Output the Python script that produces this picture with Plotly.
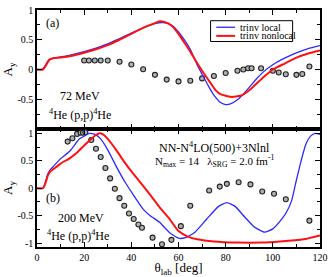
import plotly.graph_objects as go
from plotly.subplots import make_subplots

# ---------- panel (a): 72 MeV ----------
theta_a_local = [0, 2, 3, 4, 5, 6, 8, 10, 15, 20, 25, 30, 35, 40, 45, 50, 53, 55, 58, 60, 63, 65, 68, 70, 73, 75, 78, 80, 82, 85, 88, 90, 93, 96, 100, 105, 110, 115, 120]
ay_a_local = [0, 0, 0.03, 0.1, 0.16, 0.18, 0.2, 0.21, 0.25, 0.3, 0.36, 0.43, 0.52, 0.61, 0.7, 0.77, 0.79, 0.78, 0.72, 0.63, 0.47, 0.34, 0.07, -0.08, -0.3, -0.43, -0.56, -0.59, -0.58, -0.51, -0.39, -0.3, -0.16, -0.04, 0.08, 0.19, 0.28, 0.35, 0.40]
theta_a_nonlocal = [0, 2.5, 3.5, 4.5, 5.5, 7, 10, 15, 20, 25, 30, 35, 40, 45, 50, 52, 54, 57, 60, 62, 65, 68, 71, 74, 76, 78, 82, 85, 87, 90, 93, 96, 100, 105, 110, 115, 120]
ay_a_nonlocal = [0, 0, 0.05, 0.12, 0.17, 0.19, 0.2, 0.23, 0.28, 0.34, 0.41, 0.5, 0.6, 0.7, 0.78, 0.81, 0.8, 0.74, 0.6, 0.48, 0.3, 0.1, -0.08, -0.25, -0.36, -0.42, -0.46, -0.45, -0.43, -0.35, -0.24, -0.13, 0.0, 0.1, 0.2, 0.27, 0.32]
theta_a_exp = [20, 22, 24.5, 27, 30, 35, 40, 45, 50, 55, 60, 65, 70, 75, 80, 85, 87.5, 89.5, 91, 95, 100, 102.5, 105.5, 110, 112.5, 115.5]
ay_a_exp = [0.15, 0.15, 0.15, 0.15, 0.15, 0.13, 0.085, 0.005, -0.09, -0.17, -0.2, -0.19, -0.15, -0.11, -0.06, -0.02, 0.0, 0.02, 0.02, 0.02, -0.02, -0.05, -0.08, -0.09, -0.075, 0.05]

# ---------- panel (b): 200 MeV ----------
theta_b_local = [0, 2.5, 3.5, 4.5, 5.5, 7, 10, 14, 18, 20, 22.3, 24.5, 27, 30, 33.7, 37.5, 40.7, 45, 48, 52, 56, 60, 63, 67, 72, 77, 80.5, 84, 88, 92, 96.5, 100, 104, 106, 108, 110, 112, 114, 116, 118, 120]
ay_b_local = [0, 0, 0.1, 0.25, 0.33, 0.4, 0.54, 0.68, 0.9, 0.95, 1.0, 0.98, 0.9, 0.7, 0.39, 0.1, -0.11, -0.38, -0.5, -0.62, -0.8, -0.91, -0.9, -0.8, -0.56, -0.33, -0.26, -0.33, -0.52, -0.7, -0.8, -0.74, -0.55, -0.42, -0.22, 0.15, 0.5, 0.8, 0.95, 1.0, 0.98]
theta_b_nonlocal = [0, 2.5, 3.5, 4.5, 5.5, 7, 10, 14, 17, 20, 22.5, 25, 26.5, 28, 30, 33.7, 37, 40.7, 44.5, 48, 52, 56, 60, 64, 68, 75, 85, 95, 103, 113, 120]
ay_b_nonlocal = [0, 0, 0.08, 0.22, 0.3, 0.35, 0.45, 0.55, 0.65, 0.78, 0.88, 0.97, 1.0, 0.98, 0.9, 0.69, 0.48, 0.27, 0.07, -0.12, -0.35, -0.55, -0.78, -0.88, -0.93, -0.97, -0.99, -0.99, -0.97, -0.93, -0.86]
theta_b_exp = [13, 15, 17, 18.5, 19.5, 20.5, 23, 25, 27, 29, 31, 33, 35, 37, 39, 41, 43, 44.5, 49, 53, 57, 61, 65, 73, 77.5, 80.5, 85.5, 90.5, 95.5, 100.5, 105.5, 115.5]
ay_b_exp = [0.85, 0.91, 0.99, 1.01, 1.01, 1.02, 0.88, 0.72, 0.57, 0.37, 0.18, -0.01, -0.18, -0.32, -0.46, -0.56, -0.66, -0.72, -0.9, -1.02, -0.94, -0.69, -0.32, -0.04, 0.03, 0.08, 0.11, 0.07, -0.06, -0.1, -0.2, -0.59]

legend_labels = ["trinv local", "trinv nonlocal"]

BLUE = "#2a2aff"
RED = "#ff1010"
SERIF = "Liberation Serif, Times New Roman, serif"

fig = make_subplots(rows=2, cols=1, shared_xaxes=True, vertical_spacing=0)

def exp_trace(x, y, row):
    fig.add_trace(go.Scatter(
        x=x, y=y, mode="markers", showlegend=False,
        marker=dict(symbol="circle", size=5, color="#b0b0b0",
                    line=dict(color="#222222", width=1.1)),
        error_y=dict(type="constant", value=0.012, width=2, color="#222222", thickness=0.8),
    ), row=row, col=1)

def curve(x, y, row, color, width):
    fig.add_trace(go.Scatter(x=x, y=y, mode="lines", showlegend=False,
                             line=dict(color=color, width=width, shape="spline", smoothing=0.5)),
                  row=row, col=1)

exp_trace(theta_a_exp, ay_a_exp, 1)
curve(theta_a_local, ay_a_local, 1, BLUE, 1.3)
curve(theta_a_nonlocal, ay_a_nonlocal, 1, RED, 2)
exp_trace(theta_b_exp, ay_b_exp, 2)
curve(theta_b_local, ay_b_local, 2, BLUE, 1.3)
curve(theta_b_nonlocal, ay_b_nonlocal, 2, RED, 2)

axis_common = dict(showline=True, linecolor="black", linewidth=1.5, mirror="allticks",
                   ticks="inside", ticklen=5, tickwidth=1, tickcolor="black",
                   showgrid=False, zeroline=False,
                   tickfont=dict(family=SERIF, size=10, color="black"))

fig.update_xaxes(range=[0, 120], dtick=20, minor=dict(ticks="inside", ticklen=3, dtick=10, tickcolor="black"),
                 **axis_common)
fig.update_xaxes(showticklabels=False, row=1, col=1)
fig.update_xaxes(title=dict(text="θ<sub>lab</sub> [deg]", font=dict(family=SERIF, size=13, color="black"), standoff=1),
                 row=2, col=1)

fig.update_yaxes(minor=dict(ticks="inside", ticklen=3, dtick=0.25, tickcolor="black"), **axis_common)
fig.update_yaxes(range=[-1, 1], tickvals=[-0.5, 0, 0.5, 1], ticktext=["-0.5", "0", "0.5", "1"],
                 domain=[0.498, 1], row=1, col=1,
                 title=dict(text="A<sub>y</sub>", font=dict(family=SERIF, size=13, color="black"), standoff=4))
fig.update_yaxes(range=[-1.07, 1.08], tickvals=[-1, -0.5, 0, 0.5, 1], ticktext=["-1", "-0.5", "0", "0.5", "1"],
                 domain=[0, 0.498], row=2, col=1,
                 title=dict(text="A<sub>y</sub>", font=dict(family=SERIF, size=13, color="black"), standoff=4))

txt = dict(family=SERIF, size=12, color="black")
ann = [
    dict(x=6.7, y=0.78, xref="x", yref="y", text="(a)", font=txt),
    dict(x=18.4, y=-0.45, xref="x", yref="y", text="72 MeV", font=txt),
    dict(x=18.4, y=-0.76, xref="x", yref="y", text="<sup>4</sup>He (p,p)<sup>4</sup>He", font=txt),
    dict(x=6.7, y=-0.18, xref="x2", yref="y2", text="(b)", font=txt),
    dict(x=18.8, y=-0.54, xref="x2", yref="y2", text="200 MeV", font=txt),
    dict(x=17.2, y=-0.86, xref="x2", yref="y2", text="<sup>4</sup>He (p,p)<sup>4</sup>He", font=txt),
    dict(x=75.3, y=0.745, xref="x2", yref="y2", text="NN-N<sup>4</sup>LO(500)+3Nlnl", font=txt),
    dict(x=75.3, y=0.50, xref="x2", yref="y2",
         text="N<sub>max</sub> = 14   λ<sub>SRG</sub> = 2.0 fm<sup>-1</sup>", font=dict(family=SERIF, size=11, color="black")),
    dict(x=85.2, y=0.71, xref="x", yref="y", xanchor="left", yanchor="middle", text=legend_labels[0],
         font=dict(family=SERIF, size=10, color="black")),
    dict(x=85.2, y=0.565, xref="x", yref="y", xanchor="left", yanchor="middle", text=legend_labels[1],
         font=dict(family=SERIF, size=10, color="black")),
]
for a in ann:
    a["showarrow"] = False
fig.update_layout(annotations=ann)
# legend box and samples in top panel coordinates
fig.add_shape(type="rect", xref="x", yref="y", x0=73.6, x1=108.4, y0=0.47, y1=0.82,
              line=dict(color="black", width=1), fillcolor="white", layer="above")
fig.add_shape(type="line", xref="x", yref="y", x0=76, x1=84, y0=0.71, y1=0.71,
              line=dict(color=BLUE, width=1.3))
fig.add_shape(type="line", xref="x", yref="y", x0=76, x1=84, y0=0.565, y1=0.565,
              line=dict(color=RED, width=2))

fig.update_layout(
    width=332, height=277,
    margin=dict(l=36, r=9, t=4, b=26),
    paper_bgcolor="white", plot_bgcolor="white",
    showlegend=False,
)

fig.write_html("out.html", config={"displayModeBar": False},
               post_script="document.body.style.margin='0';")
